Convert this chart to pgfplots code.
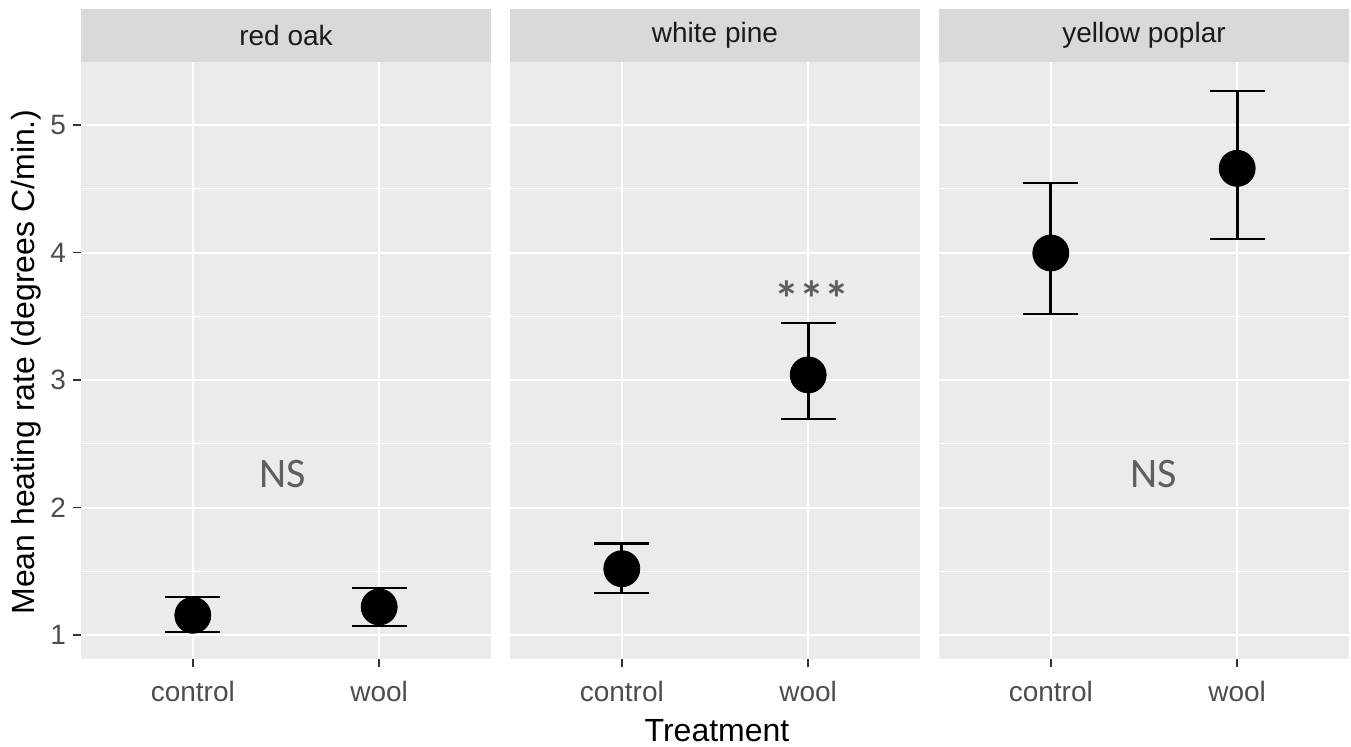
\documentclass[border=0pt]{standalone}
\usepackage{fontspec}
\setmainfont{Liberation Sans}
\newfontfamily\calibri{Carlito}
\usepackage{pgfplots}
\pgfplotsset{compat=1.18}
\definecolor{panelbg}{HTML}{EBEBEB}
\definecolor{stripbg}{HTML}{D9D9D9}
\definecolor{ticklab}{HTML}{4D4D4D}
\definecolor{tickcol}{HTML}{333333}
\definecolor{annot}{HTML}{5F5F5F}
\definecolor{striptext}{HTML}{1A1A1A}

\pgfplotsset{
  facet/.style={
    scale only axis, width=205pt, height=298.5pt,
    anchor=south west,
    xmin=0.4, xmax=2.6, ymin=0.812, ymax=5.494,
    axis line style={draw=none},
    axis background/.style={fill=panelbg},
    xtick={1,2}, xticklabels={control,wool},
    ytick={1,2,3,4,5}, minor ytick={1.5,2.5,3.5,4.5},
    grid=both,
    major grid style={white, line width=1pt},
    minor grid style={white, line width=0.5pt},
    tick align=outside, tick pos=left,
    major tick length=4pt, minor tick length=0pt,
    tick style={tickcol, line width=0.7pt},
    xticklabel style={font=\fontsize{14}{16}\selectfont, text=ticklab, yshift=-3.5pt},
    yticklabel style={font=\fontsize{14}{16}\selectfont, text=ticklab},
    /pgf/number format/assume math mode=true,
    clip=false,
  },
  pts/.style={only marks, mark=*, mark size=9pt, black,
    error bars/.cd, y dir=both, y explicit,
    error bar style={line width=1.4pt, black},
    error mark options={rotate=90, mark size=13.75pt, line width=1.4pt, black}},
}

\newcommand{\strip}[1]{%
  \fill[stripbg] (rel axis cs:0,1) rectangle ([yshift=26.5pt]rel axis cs:1,1);
  \node[font=\fontsize{14}{16}\selectfont, text=striptext] at ([yshift=13.25pt]rel axis cs:0.5,1) {#1};
}

\begin{document}
\begin{tikzpicture}
\useasboundingbox (0,0) rectangle (675.5pt,373pt);

\begin{axis}[facet, at={(40.5pt,43.5pt)}]
  \strip{red oak}
  \addplot[pts] coordinates {
    (1,1.155) += (0,0.143) -= (0,0.131)
    (2,1.220) += (0,0.149) -= (0,0.149)
  };
  \node[font=\calibri\fontsize{21}{24}\selectfont, text=annot, anchor=base] at (axis cs:1.48,2.16) {NS};
\end{axis}

\begin{axis}[facet, at={(255pt,43.5pt)}, yticklabels={}, ytick style={draw=none}]
  \strip{white pine}
  \addplot[pts] coordinates {
    (1,1.520) += (0,0.200) -= (0,0.190)
    (2,3.040) += (0,0.407) -= (0,0.346)
  };
  \node[font=\calibri\bfseries\fontsize{25}{28}\selectfont, text=annot, anchor=base] at (axis cs:2.02,3.50) {***};
\end{axis}

\begin{axis}[facet, at={(469.5pt,43.5pt)}, yticklabels={}, ytick style={draw=none}]
  \strip{yellow poplar}
  \addplot[pts] coordinates {
    (1,3.996) += (0,0.549) -= (0,0.478)
    (2,4.660) += (0,0.607) -= (0,0.554)
  };
  \node[font=\calibri\fontsize{21}{24}\selectfont, text=annot, anchor=base] at (axis cs:1.55,2.16) {NS};
\end{axis}

\node[rotate=90, font=\fontsize{16}{19}\selectfont] at (13pt,192pt) {Mean heating rate (degrees C/min.)};
\node[anchor=base, font=\fontsize{16}{19}\selectfont] at (358.5pt,2.5pt) {Treatment};
\end{tikzpicture}
\end{document}
